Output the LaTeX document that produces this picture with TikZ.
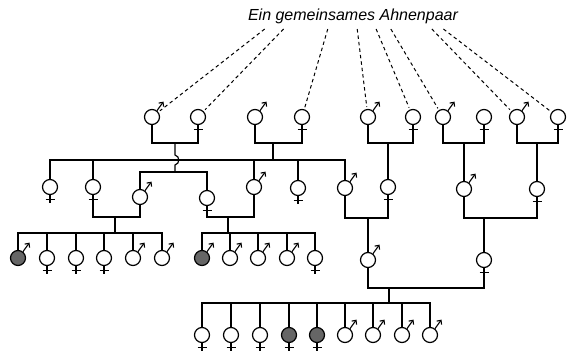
\documentclass[tikz,border=0pt]{standalone}
\usepackage{fontspec}
\setmainfont{Liberation Sans}
\usetikzlibrary{calc,arrows.meta}

\tikzset{
  person/.style={circle, draw, line width=1.2pt, minimum size=15pt, inner sep=0pt, fill=white},
  marrow/.style={line width=1.1pt, -{Straight Barb[length=3.2pt,width=6pt]}},
  kin/.style={line width=1.2pt},
  ahnen/.style={line width=1pt, dash pattern=on 3.5pt off 3pt, shorten >=2pt},
}

\begin{document}
\begin{tikzpicture}[x=1pt, y=-1pt]
  \useasboundingbox (0,0) rectangle (567,353);
  \node[font=\fontsize{16}{19}\selectfont\itshape, inner xsep=0pt, inner ysep=5pt, anchor=base]
    (title) at (353,20.5) {Ein gemeinsames Ahnenpaar};
  % men
  \foreach \n/\x/\y/\c in {t1/152/117/white, t3/255/117/white, t5/368/117/white,
      t7/443/117/white, t9/517/117/white, a3/140/197/white, a5/254/187/white,
      a7/345/188/white, a9/464/189/white, b1/18/258/black!60, b5/133/258/white,
      b6/162/258/white, c1/202/258/black!60, c2/230/258/white, c3/258/258/white,
      c4/287/258/white, d1/368/260/white, e6/345/335/white, e7/373/335/white,
      e8/402/335/white, e9/430/335/white}
    {\node[person, fill=\c] (\n) at (\x,\y) {}; \draw[marrow] (\n.52) -- ++(6.5,-9);}
  % women
  \foreach \n/\x/\y/\c in {t2/198/117/white, t4/302/117/white, t6/413/117/white,
      t8/484/117/white, t10/558/117/white, a1/50/187/white, a2/93/187/white,
      a4/207/198/white, a6/298/188/white, a8/388/187/white, a10/537/189/white,
      b2/47/258/white, b3/76/258/white, b4/104/258/white, c5/315/258/white,
      d2/484/260/white, e1/202/335/white, e2/231/335/white, e3/260/335/white,
      e4/289/335/black!60, e5/317/335/black!60}
    {\node[person, fill=\c] (\n) at (\x,\y) {}; \draw[kin] (\n.south) -- ++(0,8) ++(-4.5,-4) -- ++(9,0);}
  % the common ancestors
  \foreach \p/\t in {0.08/t1, 0.17/t2, 0.38/t4, 0.52/t5, 0.61/t6, 0.68/t7, 0.875/t9, 0.93/t10}
    \draw[ahnen] ($(title.south west)!\p!(title.south east)$) -- (\t);
  % marriages
  \coordinate (p1) at (175,143);
  \coordinate (p2) at (273,143);
  \coordinate (p3) at (388,143);
  \coordinate (p4) at (464,143);
  \coordinate (p5) at (537,143);
  \coordinate (p6) at (115,217);
  \coordinate (p7) at (228,217);
  \coordinate (p8) at (368,218);
  \coordinate (p9) at (484,218);
  \coordinate (p10) at (389,288);
  \foreach \m/\p/\f in {t1/p1/t2, t3/p2/t4, t5/p3/t6, t7/p4/t8, t9/p5/t10,
      a3/p6/a2, a5/p7/a4, a7/p8/a8, a9/p9/a10, d1/p10/d2}
    \draw[kin] (\m.south) |- (\p) -| (\f.south);
  % children
  \coordinate (s1) at (175,172);
  \coordinate (s2) at (273,160);
  \coordinate (s6) at (115,233);
  \coordinate (s7) at (228,233);
  \coordinate (s10) at (389,303);
  \draw[kin] (p1) -- ++(0,12) .. controls +(5,1) and +(5,-1) .. ++(0,10) -- (s1);
  \foreach \p/\s in {p2/s2, p6/s6, p7/s7, p10/s10} \draw[kin] (\p) -- (\s);
  \foreach \a/\s/\b in {a3/s1/a4, a1/s2/a7, b1/s6/b6, c1/s7/c5, e1/s10/e9}
    \draw[kin] (\a.north) |- (\s) -| (\b.north);
  \foreach \c/\s in {a2/s2, a5/s2, a6/s2, b2/s6, b3/s6, b4/s6, b5/s6,
      c2/s7, c3/s7, c4/s7, e2/s10, e3/s10, e4/s10, e5/s10, e6/s10, e7/s10, e8/s10}
    \draw[kin] (\c.north) -- (\c.north |- \s);
  \foreach \p/\c in {p3/a8, p4/a9, p5/a10, p8/d1, p9/d2} \draw[kin] (\p) -- (\c);
\end{tikzpicture}
\end{document}
